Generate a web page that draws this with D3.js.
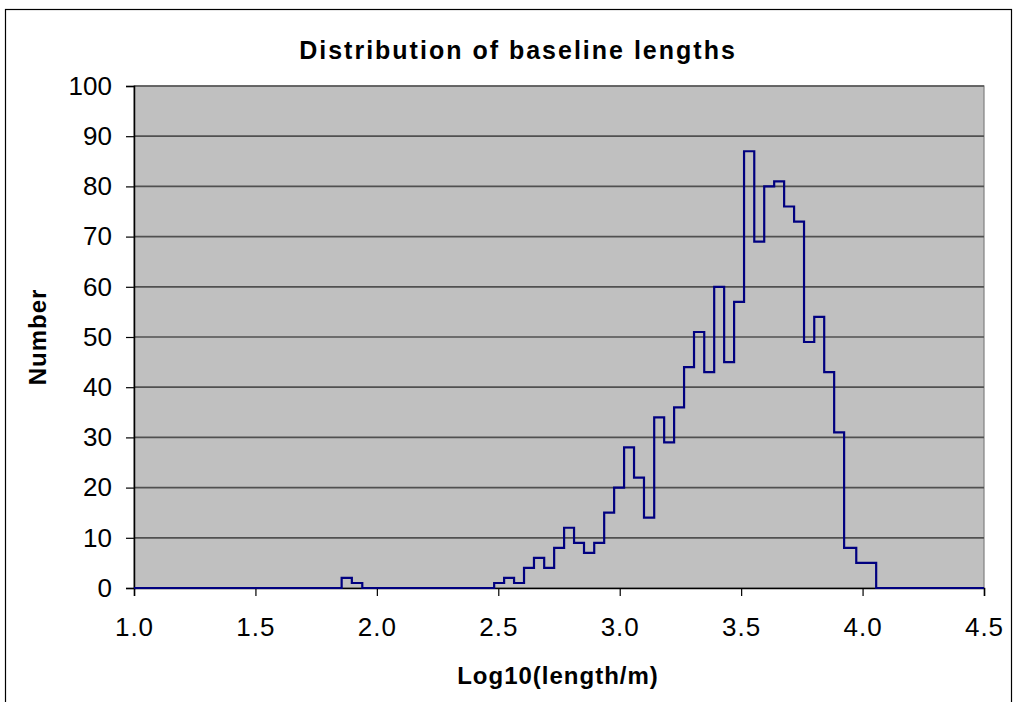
<!DOCTYPE html>
<html><head><meta charset="utf-8">
<script src="https://cdn.jsdelivr.net/npm/d3@7"></script>
<style>
html,body{margin:0;padding:0;background:#fff;}
svg text{font-family:"Liberation Sans",Arial,sans-serif;fill:#000;}
</style></head>
<body>
<svg id="chart" width="1017" height="702"></svg>
<script>
// Data: bin edges (log10 of length/m) and counts per bin (count i spans edges[i]..edges[i+1])
const edges = [1.855, 1.897, 1.940,
  2.483, 2.524, 2.565, 2.606, 2.647, 2.689, 2.730, 2.771, 2.812, 2.853,
  2.895, 2.936, 2.977, 3.018, 3.059, 3.100, 3.142, 3.183, 3.224, 3.265,
  3.306, 3.348, 3.389, 3.430, 3.471, 3.512, 3.554, 3.595, 3.636, 3.677,
  3.718, 3.759, 3.801, 3.842, 3.883, 3.924, 3.974, 4.015, 4.056];
const counts = [2, 1, 0,
  1, 2, 1, 4, 6, 4, 8, 12, 9, 7,
  9, 15, 20, 28, 22, 14, 34, 29, 36, 44,
  51, 43, 60, 45, 57, 87, 69, 80, 81, 76,
  73, 49, 54, 43, 31, 8, 5, 5];
const xTicks = [1.0, 1.5, 2.0, 2.5, 3.0, 3.5, 4.0, 4.5];
const yTicks = [0, 10, 20, 30, 40, 50, 60, 70, 80, 90, 100];
const titleText = "Distribution of baseline lengths";
const xTitle = "Log10(length/m)";
const yTitle = "Number";

const svg = d3.select("#chart");
const L = 134, R = 984, T = 86, B = 588;
const x = d3.scaleLinear().domain([1.0, 4.5]).range([L, R]);
const y = d3.scaleLinear().domain([0, 100]).range([B, T]);

// outer chart border
svg.append("rect").attr("x", 5.5).attr("y", 9.5).attr("width", 1006).attr("height", 720)
  .attr("fill", "#fff").attr("stroke", "#000").attr("stroke-width", 1.2);

// plot area
svg.append("rect").attr("x", L).attr("y", T).attr("width", R - L).attr("height", B - T)
  .attr("fill", "#c0c0c0").attr("stroke", "#808080").attr("stroke-width", 1.2);

// gridlines
svg.append("g").selectAll("line").data(yTicks.filter(d => d > 0)).join("line")
  .attr("x1", L).attr("x2", R).attr("y1", d => y(d)).attr("y2", d => y(d))
  .attr("stroke", "#505050").attr("stroke-width", 1.7);

// y axis
const yAxis = svg.append("g").attr("transform", `translate(${L},0)`)
  .call(d3.axisLeft(y).tickValues(yTicks).tickSize(8).tickPadding(14).tickFormat(d3.format("d")));
yAxis.select(".domain").attr("stroke", "#000").attr("stroke-width", 1.5);
yAxis.selectAll(".tick line").attr("stroke", "#000").attr("stroke-width", 1.2);
yAxis.selectAll("text").attr("font-size", 26).attr("font-family", "Liberation Sans, Arial, sans-serif").attr("fill", "#000");

// x axis
const xAxis = svg.append("g").attr("transform", `translate(0,${B})`)
  .call(d3.axisBottom(x).tickValues(xTicks).tickSize(8).tickPadding(22).tickFormat(d3.format(".1f")));
xAxis.select(".domain").attr("stroke", "#000").attr("stroke-width", 1.5);
xAxis.selectAll(".tick line").attr("stroke", "#000").attr("stroke-width", 1.2);
xAxis.selectAll("text").attr("font-size", 26).attr("letter-spacing", "1px")
  .attr("font-family", "Liberation Sans, Arial, sans-serif").attr("fill", "#000");

// step line
const pts = [[x.domain()[0], 0]].concat(edges.map((e, i) => [e, i < counts.length ? counts[i] : 0]))
  .concat([[x.domain()[1], 0]]);
const line = d3.line().x(d => x(d[0])).y(d => y(d[1])).curve(d3.curveStepAfter);
svg.append("path").attr("d", line(pts)).attr("fill", "none")
  .attr("stroke", "#000080").attr("stroke-width", 2.2);

// titles
svg.append("text").attr("x", 518).attr("y", 59).attr("text-anchor", "middle")
  .attr("font-size", 25).attr("font-weight", "bold").attr("letter-spacing", "2px").text(titleText);
svg.append("text").attr("x", 558).attr("y", 684).attr("text-anchor", "middle")
  .attr("font-size", 24).attr("font-weight", "bold").attr("letter-spacing", "1px").text(xTitle);
svg.append("text").attr("transform", "translate(46,337) rotate(-90)").attr("text-anchor", "middle")
  .attr("font-size", 24).attr("font-weight", "bold").attr("letter-spacing", "1px").text(yTitle);
</script>
</body></html>
